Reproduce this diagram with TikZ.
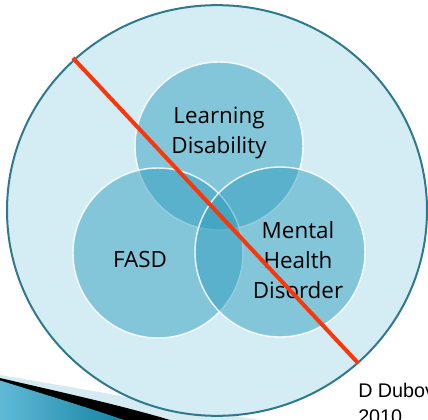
\documentclass[tikz,border=0pt]{standalone}
\usepackage{fontspec}
\setmainfont{Open Sans}
\newfontfamily\creditfont{Liberation Sans}
\usetikzlibrary{shapes.geometric}

\definecolor{paleblue}{RGB}{212,237,244}
\definecolor{rimteal}{RGB}{46,122,140}
\definecolor{setblue}{RGB}{44,156,188}
\definecolor{crossred}{RGB}{250,55,10}
\definecolor{swooshpale}{RGB}{214,234,241}
\definecolor{swooshlight}{RGB}{96,186,214}
\definecolor{swooshdark}{RGB}{18,128,160}

\tikzset{
  universe/.style={ellipse, draw=rimteal, line width=1.5pt, fill=paleblue,
    minimum width=315pt, minimum height=308pt, inner sep=0pt},
  setdisc/.style={circle, fill=setblue, fill opacity=0.48,
    draw=white, draw opacity=0.85, line width=1.1pt, inner sep=0pt},
  setlabel/.style={align=center, font=\fontsize{16.8}{22.5}\selectfont, text=black},
  crossout/.style={draw=crossred, line width=3pt},
  credit/.style={anchor=base west, align=left, inner sep=0pt,
    font=\creditfont\fontsize{14.8}{19.5}\selectfont, text=black}
}

\begin{document}
\begin{tikzpicture}[x=0.75pt, y=-0.75pt]
  \useasboundingbox (0,0) rectangle (428,420);
  \clip (0,0) rectangle (428,420);

  % corner swoosh of the slide background
  \fill[swooshpale] (0,375) .. controls (90,390) and (170,405) .. (260,420) -- (0,420) -- cycle;
  \fill[black] (0,378) .. controls (60,392) and (120,405) .. (170,420) -- (0,420) -- cycle;
  \begin{scope}
    \clip (0,380.5) .. controls (50,396) and (95,410) .. (124,420) -- (0,420) -- cycle;
    \shade[left color=swooshlight, right color=swooshdark] (0,375) rectangle (130,420);
  \end{scope}

  % enclosing set
  \node[universe] (all) at (217,210.5) {};

  % the three overlapping sets
  \node[setdisc, minimum size=126pt] (ld) at (219,146) {};
  \node[setdisc, minimum size=127.5pt] (fasd) at (158,253) {};
  \node[setdisc, minimum size=127.5pt] (mhd) at (280,252) {};

  % set labels
  \node[setlabel] (ldtext) at (219,133) {Learning\\Disability};
  \node[setlabel] (fasdtext) at (140,259) {FASD};
  \node[setlabel] (mhdtext) at (298,260) {Mental\\Health\\Disorder};

  % diagonal strike through the whole diagram
  \coordinate (crossA) at (73,58);
  \coordinate (crossB) at (358,363);
  \draw[crossout] (crossA) -- (crossB);

  % attribution, running off the right edge
  \node[credit] (author) at (358,423) {D Dubov\\2010};
\end{tikzpicture}
\end{document}
